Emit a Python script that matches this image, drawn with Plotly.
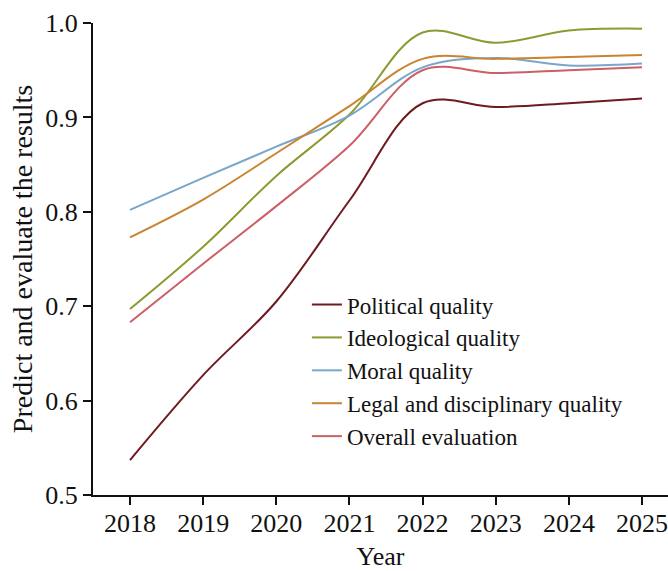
import plotly.graph_objects as go

years = [2018, 2019, 2020, 2021, 2022, 2023, 2024, 2025]

political = [0.537, 0.627, 0.705, 0.812, 0.915, 0.911, 0.915, 0.920]
ideological = [0.697, 0.763, 0.838, 0.903, 0.990, 0.979, 0.992, 0.994]
moral = [0.802, 0.836, 0.869, 0.902, 0.953, 0.963, 0.955, 0.957]
legal = [0.773, 0.813, 0.862, 0.912, 0.962, 0.962, 0.964, 0.966]
overall = [0.683, 0.745, 0.806, 0.870, 0.950, 0.947, 0.950, 0.953]

series = [
    ("Political quality", political, "#6E1A1F"),
    ("Ideological quality", ideological, "#8C9A30"),
    ("Moral quality", moral, "#7AA6C8"),
    ("Legal and disciplinary quality", legal, "#C8842F"),
    ("Overall evaluation", overall, "#CC5E66"),
]

FONT = "Liberation Serif"

fig = go.Figure()
for name, vals, color in series:
    fig.add_trace(go.Scatter(
        x=years, y=vals, name=name, mode="lines",
        line=dict(color=color, width=2, shape="spline", smoothing=1.0),
    ))

fig.update_layout(
    width=668, height=571,
    margin=dict(l=93, r=0, t=23, b=76),
    paper_bgcolor="white", plot_bgcolor="white",
    font=dict(family=FONT, size=26, color="#111111"),
    showlegend=True,
    legend=dict(
        x=0.372, y=0.449, xanchor="left", yanchor="top",
        font=dict(family=FONT, size=23, color="#111111"),
        bgcolor="rgba(0,0,0,0)", borderwidth=0,
        itemwidth=30, tracegroupgap=0,
    ),
)

fig.update_xaxes(
    range=[2017.494, 2025.355],
    tickvals=years, ticktext=[str(y) for y in years],
    showline=True, linecolor="#111111", linewidth=2,
    ticks="outside", ticklen=8, tickwidth=2, tickcolor="#111111",
    showgrid=False, zeroline=False, automargin=False,
    ticklabeloverflow="allow", ticklabelstandoff=-4,
    title=dict(text="Year", standoff=13, font=dict(family=FONT, size=26)),
    tickfont=dict(family=FONT, size=26),
)
fig.update_yaxes(
    range=[0.5, 1.0],
    tickvals=[0.5, 0.6, 0.7, 0.8, 0.9, 1.0],
    ticktext=["0.5", "0.6", "0.7", "0.8", "0.9", "1.0"],
    showline=True, linecolor="#111111", linewidth=2,
    ticks="outside", ticklen=8, tickwidth=2, tickcolor="#111111",
    showgrid=False, zeroline=False, automargin=False,
    ticklabeloverflow="allow",
    title=dict(text="Predict and evaluate the results", standoff=4,
               font=dict(family=FONT, size=28)),
    tickfont=dict(family=FONT, size=26),
)

fig.write_html(
    "out.html",
    config={"displayModeBar": False},
    post_script="document.body.style.margin='0px';document.body.style.overflow='hidden';",
)
